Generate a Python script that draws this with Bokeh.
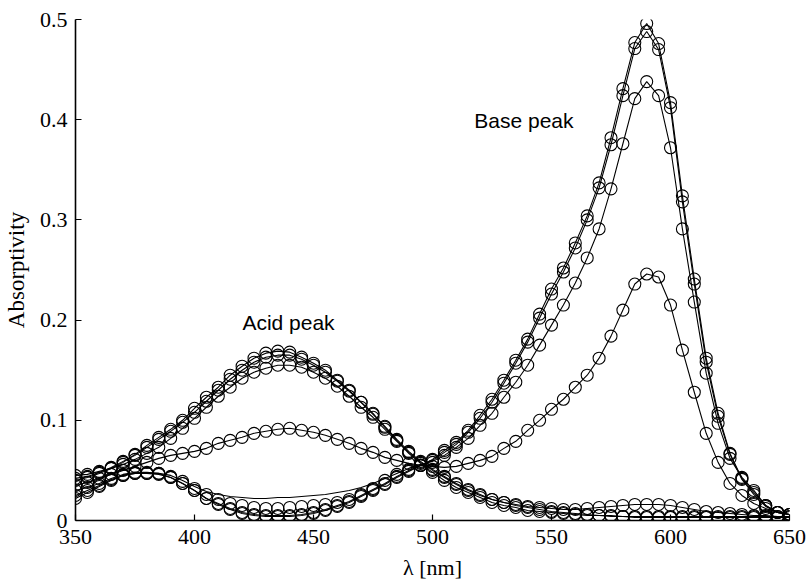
from bokeh.plotting import figure
from bokeh.models import Range1d, FixedTicker, NumeralTickFormatter, Label
from bokeh.embed import file_html
from bokeh.resources import INLINE

wavelength = [350, 355, 360, 365, 370, 375, 380, 385, 390, 395,
              400, 405, 410, 415, 420, 425, 430, 435, 440, 445,
              450, 455, 460, 465, 470, 475, 480, 485, 490, 495,
              500, 505, 510, 515, 520, 525, 530, 535, 540, 545,
              550, 555, 560, 565, 570, 575, 580, 585, 590, 595,
              600, 605, 610, 615, 620, 625, 630, 635, 640, 645, 650]

acid_a = [0.040, 0.043, 0.047, 0.052, 0.058, 0.066, 0.075, 0.083, 0.091, 0.100,
          0.112, 0.123, 0.133, 0.145, 0.154, 0.162, 0.167, 0.169, 0.168, 0.163,
          0.157, 0.150, 0.140, 0.130, 0.118, 0.107, 0.093, 0.080, 0.067, 0.057,
          0.048, 0.040, 0.033, 0.028, 0.023, 0.018, 0.015, 0.013, 0.010, 0.009,
          0.008, 0.007, 0.006, 0.005, 0.005, 0.004, 0.004, 0.003, 0.003, 0.003,
          0.003, 0.003, 0.003, 0.003, 0.003, 0.003, 0.003, 0.003, 0.003, 0.003, 0.003]

acid_b = [0.042, 0.044, 0.048, 0.053, 0.059, 0.065, 0.073, 0.081, 0.089, 0.098,
          0.108, 0.119, 0.130, 0.141, 0.150, 0.158, 0.163, 0.165, 0.165, 0.161,
          0.155, 0.148, 0.139, 0.129, 0.118, 0.106, 0.094, 0.081, 0.069, 0.059,
          0.050, 0.043, 0.036, 0.030, 0.025, 0.021, 0.018, 0.016, 0.014, 0.013,
          0.012, 0.011, 0.011, 0.012, 0.013, 0.014, 0.015, 0.016, 0.016, 0.016,
          0.015, 0.013, 0.011, 0.009, 0.008, 0.007, 0.006, 0.005, 0.005, 0.004, 0.004]

acid_c = [0.045, 0.046, 0.049, 0.052, 0.056, 0.061, 0.067, 0.073, 0.082, 0.092,
          0.102, 0.113, 0.124, 0.133, 0.142, 0.148, 0.152, 0.155, 0.155, 0.153,
          0.148, 0.142, 0.134, 0.124, 0.113, 0.103, 0.091, 0.079, 0.068, 0.058,
          0.051, 0.044, 0.037, 0.031, 0.026, 0.021, 0.018, 0.015, 0.013, 0.011,
          0.009, 0.008, 0.007, 0.006, 0.005, 0.005, 0.004, 0.004, 0.004, 0.004,
          0.004, 0.004, 0.004, 0.004, 0.004, 0.004, 0.004, 0.004, 0.004, 0.004, 0.004]

mid_d = [0.035, 0.038, 0.042, 0.046, 0.050, 0.054, 0.058, 0.062, 0.065, 0.067,
         0.069, 0.072, 0.077, 0.080, 0.083, 0.087, 0.089, 0.091, 0.092, 0.090,
         0.088, 0.085, 0.081, 0.077, 0.072, 0.068, 0.063, 0.060, 0.057, 0.055,
         0.054, 0.053, 0.054, 0.057, 0.060, 0.064, 0.072, 0.079, 0.090, 0.100,
         0.111, 0.121, 0.133, 0.145, 0.162, 0.184, 0.210, 0.236, 0.246, 0.243,
         0.215, 0.170, 0.128, 0.087, 0.058, 0.037, 0.025, 0.017, 0.012, 0.008, 0.006]

base_e = [0.030, 0.033, 0.037, 0.042, 0.046, 0.048, 0.048, 0.047, 0.044, 0.039,
          0.032, 0.026, 0.021, 0.017, 0.015, 0.013, 0.012, 0.012, 0.013, 0.014,
          0.015, 0.016, 0.018, 0.021, 0.026, 0.032, 0.040, 0.046, 0.051, 0.055,
          0.058, 0.065, 0.073, 0.082, 0.095, 0.107, 0.123, 0.138, 0.155, 0.175,
          0.195, 0.215, 0.237, 0.262, 0.291, 0.331, 0.376, 0.421, 0.438, 0.424,
          0.372, 0.291, 0.218, 0.147, 0.097, 0.062, 0.043, 0.030, 0.015, 0.008, 0.006]

# fitted curve for base_e (drawn as line only; departs from the points near 420-480 nm)
base_e_fit = [0.030, 0.033, 0.037, 0.042, 0.046, 0.048, 0.048, 0.047, 0.045, 0.040,
              0.034, 0.029, 0.026, 0.024, 0.023, 0.022, 0.022, 0.023, 0.023, 0.024,
              0.025, 0.026, 0.028, 0.030, 0.033, 0.037, 0.042, 0.047, 0.052, 0.056,
              0.059, 0.065, 0.073, 0.082, 0.095, 0.107, 0.123, 0.138, 0.155, 0.175,
              0.195, 0.215, 0.237, 0.262, 0.291, 0.331, 0.376, 0.421, 0.438, 0.424,
              0.372, 0.291, 0.218, 0.147, 0.097, 0.062, 0.043, 0.030, 0.015, 0.008, 0.006]

base_f = [0.025, 0.030, 0.035, 0.041, 0.045, 0.047, 0.047, 0.046, 0.043, 0.037,
          0.030, 0.022, 0.017, 0.012, 0.008, 0.006, 0.005, 0.005, 0.005, 0.006,
          0.008, 0.011, 0.015, 0.019, 0.025, 0.031, 0.037, 0.044, 0.050, 0.055,
          0.060, 0.068, 0.076, 0.088, 0.102, 0.118, 0.137, 0.157, 0.178, 0.202,
          0.226, 0.248, 0.272, 0.300, 0.332, 0.375, 0.424, 0.471, 0.488, 0.470,
          0.412, 0.318, 0.236, 0.158, 0.104, 0.066, 0.041, 0.026, 0.014, 0.008, 0.006]

base_g = [0.022, 0.028, 0.034, 0.040, 0.045, 0.047, 0.047, 0.047, 0.043, 0.037,
          0.030, 0.022, 0.016, 0.011, 0.007, 0.005, 0.004, 0.004, 0.004, 0.005,
          0.007, 0.010, 0.014, 0.018, 0.024, 0.030, 0.036, 0.043, 0.049, 0.055,
          0.061, 0.070, 0.078, 0.090, 0.105, 0.121, 0.140, 0.160, 0.181, 0.206,
          0.231, 0.252, 0.277, 0.304, 0.337, 0.382, 0.431, 0.477, 0.496, 0.476,
          0.417, 0.324, 0.241, 0.162, 0.107, 0.067, 0.042, 0.028, 0.015, 0.008, 0.006]

point_series = [acid_a, acid_b, acid_c, mid_d, base_e, base_f, base_g]
line_series = [acid_a, acid_b, acid_c, mid_d, base_e_fit, base_f, base_g]

x_ticks = [350, 400, 450, 500, 550, 600, 650]
y_ticks = [0, 0.1, 0.2, 0.3, 0.4, 0.5]

SERIF = "Liberation Serif, Times New Roman, serif"

p = figure(width=810, height=581, output_backend="svg", toolbar_location=None,
           x_range=Range1d(350, 650), y_range=Range1d(0, 0.5),
           frame_width=714, frame_height=501,
           min_border_left=75, min_border_right=21, min_border_top=19, min_border_bottom=61)
p.outline_line_color = None
p.xgrid.visible = False
p.ygrid.visible = False
p.background_fill_color = "white"
p.border_fill_color = "white"

for ys in line_series:
    p.line(wavelength, ys, line_color="black", line_width=1.1)
for ys in point_series:
    p.scatter(wavelength, ys, marker="circle", size=12, fill_color=None,
              line_color="black", line_width=1.1)

for ax in (p.xaxis[0], p.yaxis[0]):
    ax.axis_line_color = "black"
    ax.axis_line_width = 1.6
    ax.major_tick_in = 6
    ax.major_tick_out = 0
    ax.minor_tick_in = 0
    ax.minor_tick_out = 0
    ax.major_tick_line_color = "black"
    ax.major_tick_line_width = 1.2
    ax.major_label_text_font = SERIF
    ax.major_label_text_font_size = "22px"
    ax.major_label_text_color = "black"
    ax.axis_label_text_font = SERIF
    ax.axis_label_text_font_size = "22px"
    ax.axis_label_text_font_style = "normal"
    ax.axis_label_text_color = "black"

p.xaxis.ticker = FixedTicker(ticks=x_ticks)
p.yaxis.ticker = FixedTicker(ticks=y_ticks)
p.yaxis.formatter = NumeralTickFormatter(format="0.[0]")
p.xaxis.axis_label = "λ [nm]"
p.yaxis.axis_label = "Absorptivity"
p.xaxis.major_label_standoff = 9
p.xaxis.axis_label_standoff = 8
p.yaxis.major_label_standoff = 8
p.yaxis.axis_label_standoff = 8
p.yaxis.axis_label_text_font_size = "23px"

p.add_layout(Label(x=439.5, y=0.198, text="Acid peak", text_align="center",
                   text_baseline="middle", text_font="Liberation Sans",
                   text_font_size="21px", text_color="black"))
p.add_layout(Label(x=538.4, y=0.399, text="Base peak", text_align="center",
                   text_baseline="middle", text_font="Liberation Sans",
                   text_font_size="21px", text_color="black"))

open("out.html", "w").write(file_html(p, INLINE))
